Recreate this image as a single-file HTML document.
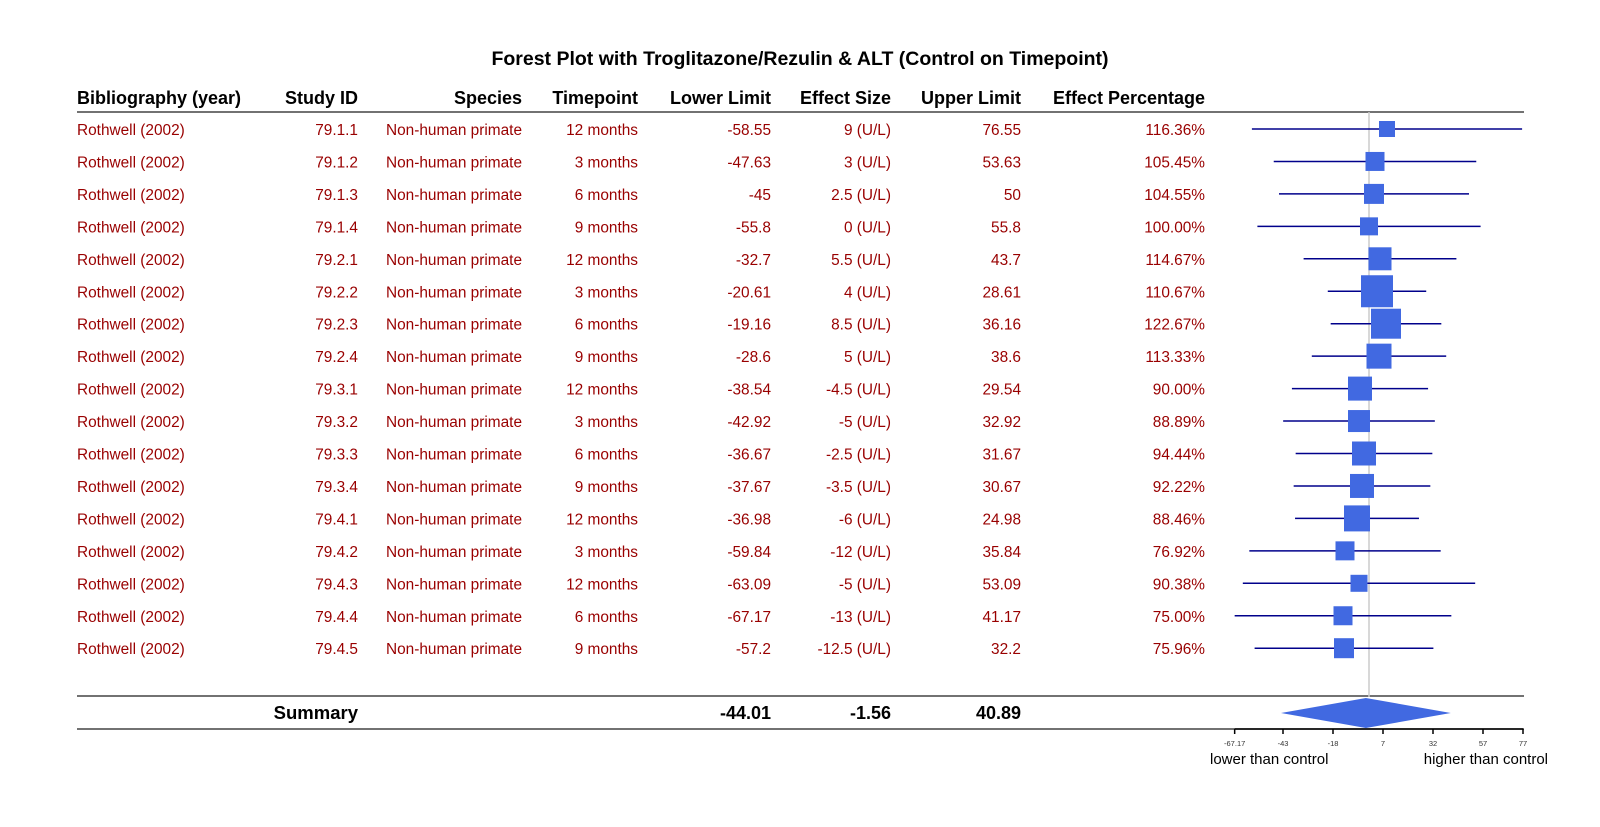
<!DOCTYPE html>
<html><head><meta charset="utf-8"><style>
html,body{margin:0;padding:0;background:#fff;}
svg text{font-family:"Liberation Sans",Arial,sans-serif;}
</style></head><body>
<svg id="chart" width="1600" height="822" xmlns="http://www.w3.org/2000/svg">
<text x="800" y="65" text-anchor="middle" font-size="19.5" font-weight="bold">Forest Plot with Troglitazone/Rezulin &amp; ALT (Control on Timepoint)</text>
<g id="hdr" font-size="18" font-weight="bold">
<text x="77" y="104">Bibliography (year)</text>
<text x="358" y="104" text-anchor="end">Study ID</text>
<text x="522" y="104" text-anchor="end">Species</text>
<text x="638" y="104" text-anchor="end">Timepoint</text>
<text x="771" y="104" text-anchor="end">Lower Limit</text>
<text x="891" y="104" text-anchor="end">Effect Size</text>
<text x="1021" y="104" text-anchor="end">Upper Limit</text>
<text x="1205" y="104" text-anchor="end">Effect Percentage</text>
</g>
<line x1="77" y1="112" x2="1524" y2="112" stroke="#444" stroke-width="1.5"/>
<line x1="77" y1="696" x2="1524" y2="696" stroke="#444" stroke-width="1.5"/>
<line x1="77" y1="729" x2="1524" y2="729" stroke="#444" stroke-width="1.5"/>
<g id="rows"></g>
<g id="plot"></g>
</svg>
<script>
const studyIds=["79.1.1","79.1.2","79.1.3","79.1.4","79.2.1","79.2.2","79.2.3","79.2.4","79.3.1","79.3.2","79.3.3","79.3.4","79.4.1","79.4.2","79.4.3","79.4.4","79.4.5"];
const timepoints=["12 months","3 months","6 months","9 months","12 months","3 months","6 months","9 months","12 months","3 months","6 months","9 months","12 months","3 months","12 months","6 months","9 months"];
const lowerLimits=[-58.55,-47.63,-45,-55.8,-32.7,-20.61,-19.16,-28.6,-38.54,-42.92,-36.67,-37.67,-36.98,-59.84,-63.09,-67.17,-57.2];
const effectSizes=[9,3,2.5,0,5.5,4,8.5,5,-4.5,-5,-2.5,-3.5,-6,-12,-5,-13,-12.5];
const upperLimits=[76.55,53.63,50,55.8,43.7,28.61,36.16,38.6,29.54,32.92,31.67,30.67,24.98,35.84,53.09,41.17,32.2];
const effectPct=["116.36%","105.45%","104.55%","100.00%","114.67%","110.67%","122.67%","113.33%","90.00%","88.89%","94.44%","92.22%","88.46%","76.92%","90.38%","75.00%","75.96%"];
const weights=[16,19,20,18,23,32,30,25,24,22,24,24,26,19,17,19,20];
const summary=[-44.01,-1.56,40.89];
const ticks=[-67.17,-43,-18,7,32,57,77];

const NS="http://www.w3.org/2000/svg";
const x0=1369, pxPerUnit=2;
const xs=v=>x0+v*pxPerUnit;
const ys=i=>129+i*32.45;
function mk(tag,attrs,parent,txt){const e=document.createElementNS(NS,tag);for(const k in attrs)e.setAttribute(k,attrs[k]);if(txt!==undefined)e.textContent=txt;parent.appendChild(e);return e;}
const rows=document.getElementById('rows'), plot=document.getElementById('plot');
const fmt=v=>String(v);
const zl=mk('line',{x1:xs(0),y1:112,x2:xs(0),y2:697,stroke:'#ccc','stroke-width':1.5},plot);


for(let i=0;i<studyIds.length;i++){
  const y=ys(i)+6;
  const cols=[[77,'start','Rothwell (2002)','bibliography'],[358,'end',studyIds[i],'study-id'],[522,'end','Non-human primate','species'],[638,'end',timepoints[i],'timepoint'],[771,'end',fmt(lowerLimits[i]),'lower-limit'],[891,'end',fmt(effectSizes[i])+' (U/L)','effect-size'],[1021,'end',fmt(upperLimits[i]),'upper-limit'],[1205,'end',effectPct[i],'effect-percentage']];
  for(const c of cols){
    const t=mk('text',{x:c[0],y:y,'text-anchor':c[1],'font-size':15.4,fill:'#990000'},rows,c[2]);
    
    
  }
  const ln=mk('line',{x1:xs(lowerLimits[i]),y1:ys(i),x2:xs(upperLimits[i]),y2:ys(i),stroke:'#00008B','stroke-width':1.5},plot);
  
  
  const w=weights[i];
  const sq=mk('rect',{x:xs(effectSizes[i])-w/2,y:ys(i)-w/2,width:w,height:w,fill:'#4169E1'},plot);
  
  
}
const sy=713;
[[771,summary[0],'summary-lower'],[891,summary[1],'summary-effect'],[1021,summary[2],'summary-upper']].forEach(c=>{
  const t=mk('text',{x:c[0],y:sy+6,'text-anchor':'end','font-size':18,'font-weight':'bold'},rows,fmt(c[1]));
  
  
});
const sl=mk('text',{x:358,y:sy+6,'text-anchor':'end','font-size':18.5,'font-weight':'bold'},rows,'Summary');


const dm=mk('polygon',{points:`${xs(summary[0])},${sy} ${xs(summary[1])},${sy-15} ${xs(summary[2])},${sy} ${xs(summary[1])},${sy+15}`,fill:'#4169E1'},plot);


const ax=mk('line',{x1:xs(ticks[0]),y1:729,x2:xs(ticks[ticks.length-1]),y2:729,stroke:'#000','stroke-width':1.5},plot);


ticks.forEach(t=>{
  const tk=mk('line',{x1:xs(t),y1:729,x2:xs(t),y2:734,stroke:'#000','stroke-width':1.5},plot);
  
  
  const tl=mk('text',{x:xs(t),y:746,'text-anchor':'middle','font-size':7.5,fill:'#333'},plot,String(t));
  
  
});
const lo=mk('text',{x:1210,y:764,'font-size':15},plot,'lower than control');


const hi=mk('text',{x:1548,y:764,'text-anchor':'end','font-size':15},plot,'higher than control');


</script>
</body></html>
